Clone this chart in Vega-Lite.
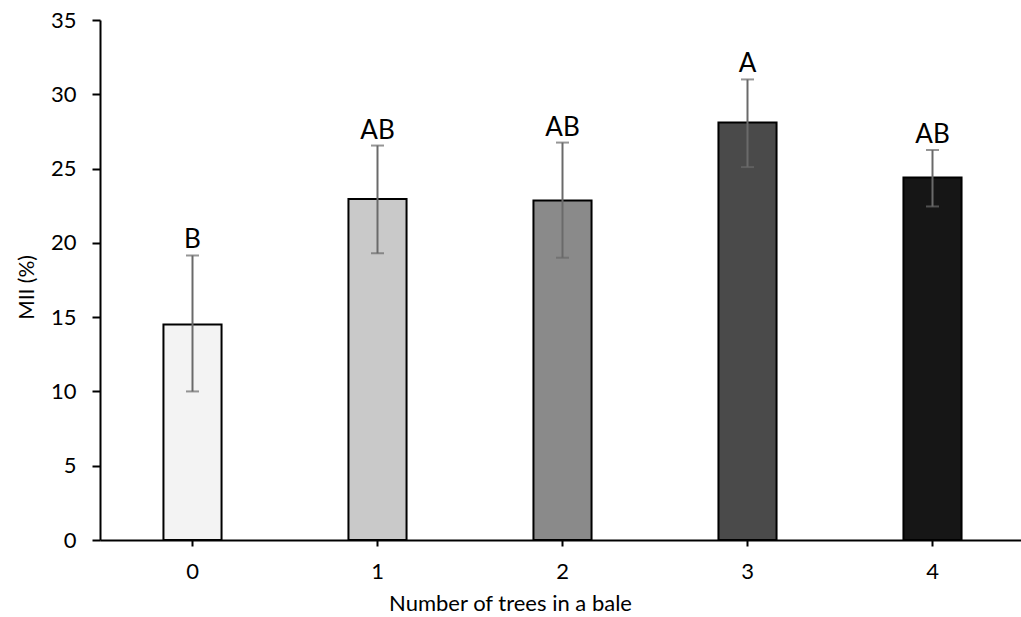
{
  "$schema": "https://vega.github.io/schema/vega-lite/v6.json",
  "width": 925,
  "height": 520,
  "autosize": "none",
  "padding": {"left": 100, "top": 20, "right": 0, "bottom": 77},
  "background": "white",
  "config": {
    "font": "Lato",
    "view": {"stroke": null}
  },
  "data": {
    "values": [
      {"trees": "0", "mii": 14.5, "lo": 10.0, "hi": 19.15, "letter": "B"},
      {"trees": "1", "mii": 22.95, "lo": 19.3, "hi": 26.55, "letter": "AB"},
      {"trees": "2", "mii": 22.85, "lo": 19.0, "hi": 26.75, "letter": "AB"},
      {"trees": "3", "mii": 28.1, "lo": 25.1, "hi": 31.0, "letter": "A"},
      {"trees": "4", "mii": 24.4, "lo": 22.45, "hi": 26.25, "letter": "AB"}
    ]
  },
  "encoding": {
    "x": {
      "field": "trees",
      "type": "nominal",
      "scale": {"paddingInner": 0.686, "paddingOuter": 0.343},
      "axis": {
        "title": "Number of trees in a bale",
        "labelAngle": 0,
        "labelFontSize": 22,
        "labelColor": "black",
        "labelPadding": 15,
        "titleFontSize": 22,
        "titleFontWeight": "normal",
        "titleColor": "black",
        "titleX": 410,
        "titleY": 70,
        "titleBaseline": "alphabetic",
        "tickSize": 6,
        "tickWidth": 2,
        "tickColor": "black",
        "domainColor": "black",
        "domainWidth": 2,
        "grid": false
      }
    }
  },
  "layer": [
    {
      "mark": {"type": "bar", "stroke": "black", "strokeWidth": 2},
      "encoding": {
        "y": {
          "field": "mii",
          "type": "quantitative",
          "scale": {"domain": [0, 35], "nice": false},
          "axis": {
            "title": "MII (%)",
            "values": [0, 5, 10, 15, 20, 25, 30, 35],
            "labelFontSize": 22,
            "labelColor": "black",
            "labelPadding": 16,
            "titleFontSize": 21,
            "titleFontWeight": "normal",
            "titleColor": "black",
            "titleAngle": 270,
            "titleBaseline": "middle",
            "titleX": -73,
            "titleY": 267,
            "tickSize": 8,
            "tickWidth": 2,
            "tickColor": "black",
            "domainColor": "black",
            "domainWidth": 2,
            "grid": false
          }
        },
        "color": {
          "field": "trees",
          "type": "nominal",
          "scale": {"range": ["#f3f3f3", "#c9c9c9", "#8a8a8a", "#4a4a4a", "#161616"]},
          "legend": null
        }
      }
    },
    {
      "mark": {"type": "rule", "color": "#6a6a6a", "strokeWidth": 2},
      "encoding": {
        "y": {"field": "lo", "type": "quantitative"},
        "y2": {"field": "hi"}
      }
    },
    {
      "mark": {"type": "tick", "color": "#6a6a6a", "thickness": 2, "size": 13},
      "encoding": {"y": {"field": "lo", "type": "quantitative"}}
    },
    {
      "mark": {"type": "tick", "color": "#6a6a6a", "thickness": 2, "size": 13},
      "encoding": {"y": {"field": "hi", "type": "quantitative"}}
    },
    {
      "mark": {"type": "text", "fontSize": 26, "color": "black", "baseline": "alphabetic", "dy": -7},
      "encoding": {
        "y": {"field": "hi", "type": "quantitative"},
        "text": {"field": "letter"}
      }
    }
  ]
}
